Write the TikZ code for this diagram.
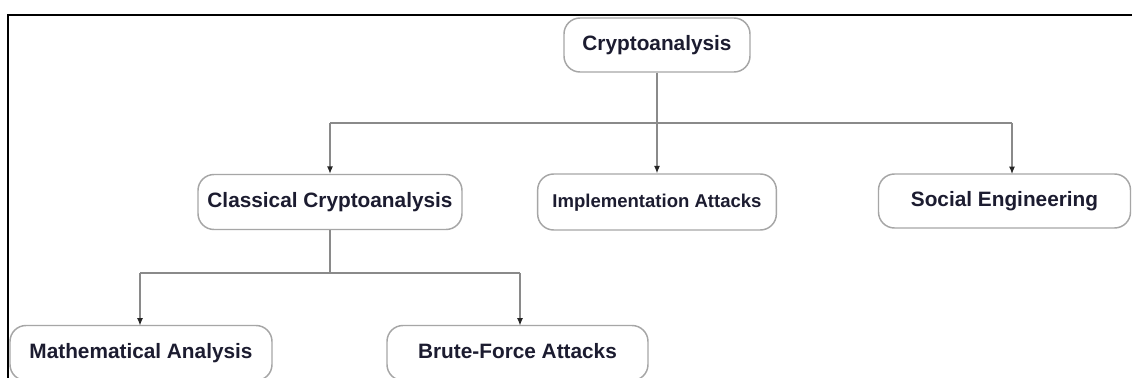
\documentclass[tikz,border=0pt]{standalone}
\usepackage{fontspec}
\setmainfont{Liberation Sans}
\usetikzlibrary{arrows.meta}
\definecolor{boxline}{HTML}{A6A6A6}
\definecolor{linkline}{HTML}{8A8A8A}
\definecolor{labeltext}{HTML}{1C1C30}
\tikzset{
  topic/.style={draw=boxline, line width=1.1pt, rounded corners=12pt, fill=white,
    inner sep=0pt, text height=11pt, text depth=3pt, text=labeltext,
    font=\bfseries\fontsize{15.6}{18}\selectfont},
  link/.style={draw=linkline, line width=0.9pt},
  linkarrow/.style={link, -{Latex[length=5.5pt,width=4.5pt,color=black!85]}},
  frameline/.style={draw=black, line width=1.5pt}
}
\begin{document}
\begin{tikzpicture}[x=0.75pt, y=-0.75pt]
  \useasboundingbox (0,0) rectangle (1132,378);
  \clip (0,0) rectangle (1132,378);
  \fill[white] (0,0) rectangle (1132,378);

  % frame edges
  \coordinate (fl) at (8,15);
  \coordinate (fr) at (1134,15);
  \coordinate (fb) at (8,380);
  \draw[frameline] (fr) -- (fl) -- (fb);

  % nodes
  \node[topic, minimum width=139.5pt, minimum height=40.5pt] (root) at (657,45) {Cryptoanalysis};
  \node[topic, minimum width=198pt, minimum height=41.25pt] (classical) at (330,202) {Classical Cryptoanalysis};
  \node[topic, minimum width=179pt, minimum height=42pt, font=\bfseries\fontsize{13.9}{16}\selectfont] (impl) at (657,202) {Implementation Attacks};
  \node[topic, minimum width=189pt, minimum height=40.5pt] (social) at (1004.5,201) {Social Engineering};
  \node[topic, minimum width=196.5pt, minimum height=41.25pt] (math) at (141,353) {Mathematical Analysis};
  \node[topic, minimum width=195.75pt, minimum height=41.25pt] (brute) at (517.5,353) {Brute-Force Attacks};

  % branch points
  \coordinate (cl1) at (330,123);
  \coordinate (cl3) at (1012,123);
  \coordinate (rootbar) at (root.south |- cl1);
  \coordinate (socialtop) at (1012,174);
  \coordinate (classbar) at (330,273);
  \coordinate (cb1) at (140,273);
  \coordinate (cb2) at (520,273);
  \coordinate (mathtop) at (140,325.5);
  \coordinate (brutetop) at (520,325.5);

  % connectors
  \draw[link] (root.south) -- (rootbar);
  \draw[link] (cl1) -- (cl3);
  \draw[linkarrow] (cl1) -- (classical.north);
  \draw[linkarrow] (rootbar) -- (impl.north);
  \draw[linkarrow] (cl3) -- (socialtop);

  \draw[link] (classical.south) -- (classbar);
  \draw[link] (cb1) -- (cb2);
  \draw[linkarrow] (cb1) -- (mathtop);
  \draw[linkarrow] (cb2) -- (brutetop);
\end{tikzpicture}
\end{document}
